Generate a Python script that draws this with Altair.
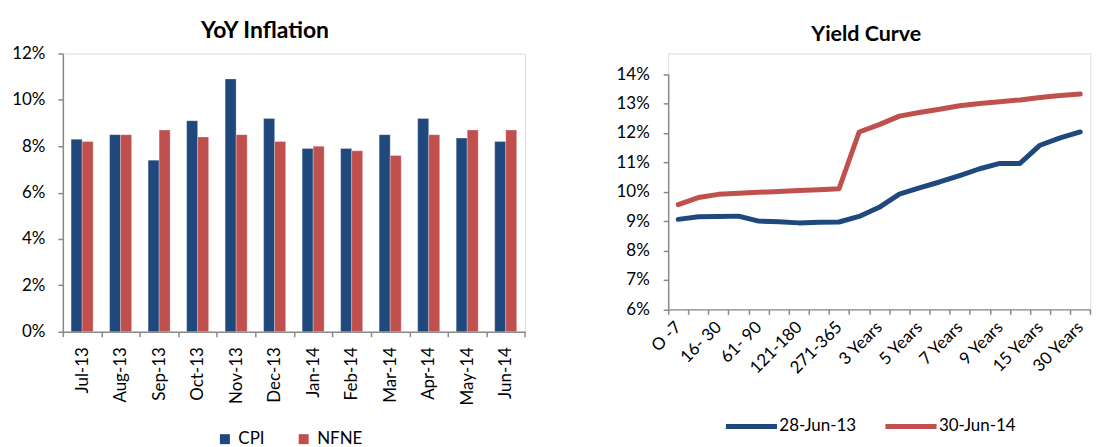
import altair as alt
import pandas as pd

FONT = "Lato"

# ---- YoY Inflation data (percent) ----
months = ["Jul-13", "Aug-13", "Sep-13", "Oct-13", "Nov-13", "Dec-13",
          "Jan-14", "Feb-14", "Mar-14", "Apr-14", "May-14", "Jun-14"]
cpi = [8.3, 8.5, 7.4, 9.1, 10.9, 9.2, 7.9, 7.9, 8.5, 9.2, 8.35, 8.2]
nfne = [8.2, 8.5, 8.7, 8.4, 8.5, 8.2, 8.0, 7.8, 7.6, 8.5, 8.7, 8.7]
bar_series = ["CPI", "NFNE"]
bar_colors = ["#1F497D", "#C0504D"]
bar_ticks = [0, 0.02, 0.04, 0.06, 0.08, 0.10, 0.12]

# ---- Yield curve data (percent) ----
tenors = ["O -7", "8-15", "16- 30", "31- 60", "61- 90", "91-120", "121-180",
          "181-270", "271-365", "2 Years", "3 Years", "4 Years", "5 Years",
          "6 Years", "7 Years", "8 Years", "9 Years", "10 Years", "15 Years",
          "20 Years", "30 Years"]
shown_tenors = ["O -7", "16- 30", "61- 90", "121-180", "271-365", "3 Years",
                "5 Years", "7 Years", "9 Years", "15 Years", "30 Years"]
y_jun13 = [9.06, 9.15, 9.16, 9.17, 9.00, 8.98, 8.94, 8.96, 8.97, 9.16, 9.47,
           9.92, 10.13, 10.33, 10.55, 10.78, 10.96, 10.96, 11.58, 11.83, 12.03]
y_jun14 = [9.56, 9.80, 9.91, 9.95, 9.98, 10.01, 10.04, 10.07, 10.10, 12.03,
           12.28, 12.57, 12.69, 12.80, 12.92, 13.00, 13.06, 13.12, 13.20,
           13.27, 13.32]
line_series = ["28-Jun-13", "30-Jun-14"]
line_colors = ["#1F497D", "#C0504D"]
line_ticks = [0.06, 0.07, 0.08, 0.09, 0.10, 0.11, 0.12, 0.13, 0.14]

bar_df = pd.DataFrame({
    "month": months * 2,
    "series": ["CPI"] * len(months) + ["NFNE"] * len(months),
    "value": [v / 100 for v in cpi + nfne],
})

rows = []
for s, vals in zip(line_series, [y_jun13, y_jun14]):
    for t, v in zip(tenors, vals):
        rows.append({"tenor": t, "series": s, "value": v / 100})
line_df = pd.DataFrame(rows)

axis_common = dict(labelFont=FONT, labelFontSize=17, labelColor="#000000",
                   domainColor="#8a8a8a", domainWidth=1.5,
                   tickColor="#8a8a8a", tickWidth=1.5, grid=False, title=None)

left = alt.Chart(bar_df).mark_bar(stroke="white", strokeWidth=0.6, strokeOpacity=0.45).encode(
    x=alt.X("month:N", sort=months,
            scale=alt.Scale(paddingInner=0, paddingOuter=0),
            axis=alt.Axis(labelAngle=-90, tickBand="extent", tickSize=5,
                          labelPadding=10, labelAlign="right", labelBaseline="middle",
                          labelOverlap=False, **axis_common)),
    xOffset=alt.XOffset("series:N", sort=bar_series,
                        scale=alt.Scale(paddingInner=0, paddingOuter=0.75)),
    y=alt.Y("value:Q", scale=alt.Scale(domain=[0, 0.12], nice=False),
            axis=alt.Axis(format=".0%", values=bar_ticks, tickSize=5,
                          labelPadding=13, **axis_common)),
    color=alt.Color("series:N", sort=bar_series,
                    scale=alt.Scale(domain=bar_series, range=bar_colors),
                    legend=alt.Legend(orient="none", legendX=154, legendY=378,
                                      direction="horizontal", title=None,
                                      symbolType="square", symbolSize=100,
                                      symbolStrokeWidth=0, labelFont=FONT,
                                      labelFontSize=17, labelColor="#000000",
                                      labelOffset=5, columnPadding=30)),
).properties(
    width=463.4, height=279,
    title=alt.TitleParams("YoY Inflation", font=FONT, fontSize=23,
                          fontWeight="bold", color="#000000", offset=2, dx=-29),
)

label_expr = "indexof(" + str(shown_tenors) + ", datum.value) >= 0 ? datum.value : ''"

right = alt.Chart(line_df).mark_line(strokeWidth=5, strokeCap="round", strokeJoin="round").encode(
    x=alt.X("tenor:N", sort=tenors, bandPosition=0.5,
            scale=alt.Scale(type="band", paddingInner=0, paddingOuter=0),
            axis=alt.Axis(labelAngle=-45, tickBand="extent", tickSize=5,
                          labelPadding=10, labelAlign="right", labelBaseline="middle",
                          labelOverlap=False, labelExpr=label_expr, **axis_common)),
    y=alt.Y("value:Q", scale=alt.Scale(domain=[0.06, 0.14], nice=False, range=[256.6, 20.6]),
            axis=alt.Axis(format=".0%", values=line_ticks, tickSize=5,
                          labelPadding=14, **axis_common)),
    color=alt.Color("series:N", sort=line_series,
                    scale=alt.Scale(domain=line_series, range=line_colors),
                    legend=alt.Legend(orient="none", legendX=70.5, legendY=361,
                                      direction="horizontal", title=None,
                                      symbolType="M-2.5,0H2.5", symbolSize=420,
                                      symbolStrokeWidth=5, labelFont=FONT,
                                      labelFontSize=17, labelColor="#000000",
                                      labelOffset=15, columnPadding=18)),
).properties(
    width=423.3, height=256.6,
    title=alt.TitleParams("Yield Curve", font=FONT, fontSize=21.5,
                          fontWeight="bold", color="#000000", offset=8, dx=-13),
)

chart = alt.hconcat(left, right, spacing=89).resolve_scale(
    color="independent"
).properties(
    padding={"left": 3, "top": 10, "right": 0, "bottom": 0},
    background="white",
).configure_view(stroke=None).configure(font=FONT)

chart.save("out.html", embed_options={"renderer": "svg", "actions": False})
